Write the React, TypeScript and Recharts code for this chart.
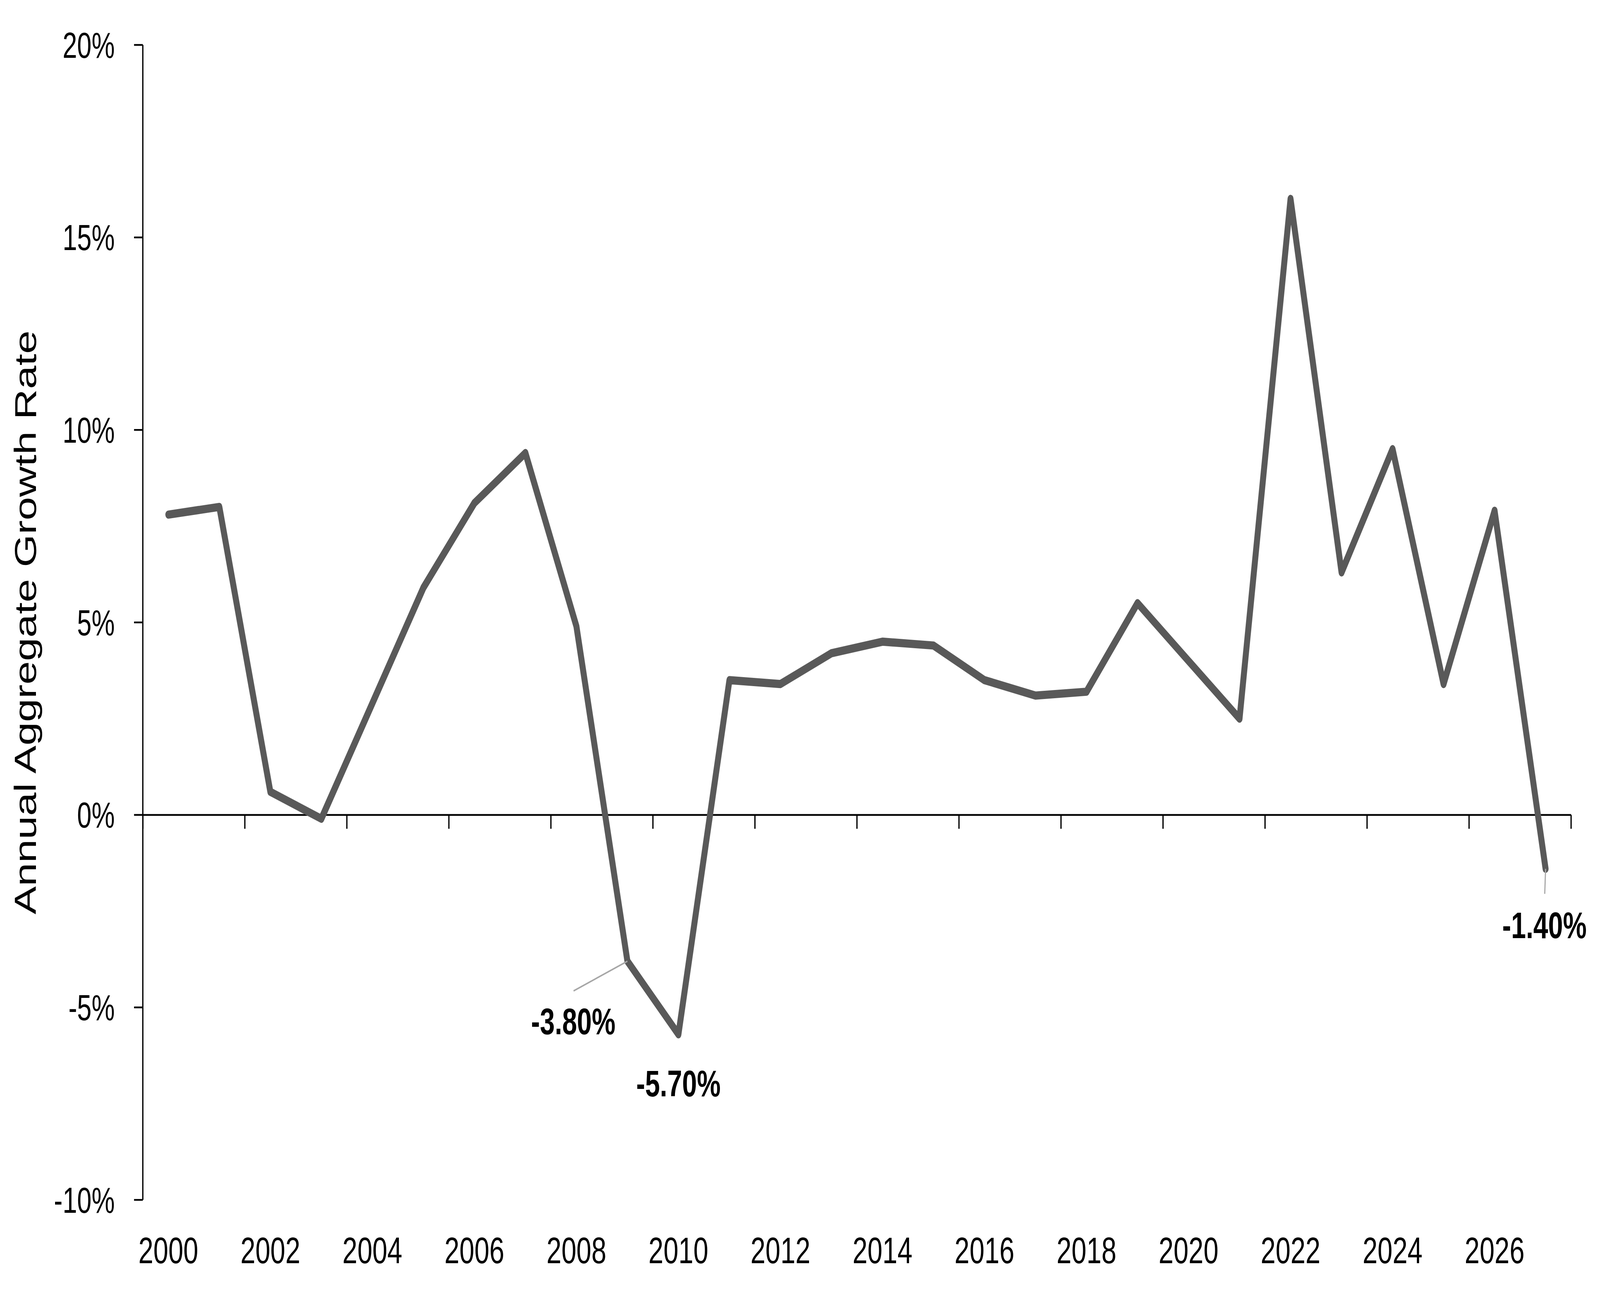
import { LineChart, Line, XAxis, YAxis, ReferenceLine } from 'recharts';

const years = [
  2000, 2001, 2002, 2003, 2004, 2005, 2006, 2007, 2008, 2009, 2010, 2011, 2012, 2013,
  2014, 2015, 2016, 2017, 2018, 2019, 2020, 2021, 2022, 2023, 2024, 2025, 2026, 2027,
];

const growth = [
  7.8, 8.0, 0.6, -0.1, 2.9, 5.9, 8.1, 9.4, 4.9, -3.8, -5.7, 3.5, 3.4, 4.2,
  4.5, 4.4, 3.5, 3.1, 3.2, 5.5, 4.0, 2.5, 16.0, 6.3, 9.5, 3.4, 7.9, -1.4,
];

const yearLabels = [2000, 2002, 2004, 2006, 2008, 2010, 2012, 2014, 2016, 2018, 2020, 2022, 2024, 2026];
const yearBoundaries = [
  1999.5, 2001.5, 2003.5, 2005.5, 2007.5, 2009.5, 2011.5, 2013.5, 2015.5, 2017.5, 2019.5,
  2021.5, 2023.5, 2025.5, 2027.5,
];
const yTicks = [-10, -5, 0, 5, 10, 15, 20];

const annotatedYears = [2009, 2010, 2027];

const data = years.map((year, i) => ({ year, value: growth[i] }));

const W = 5646;
const H = 3340;
const FONT = '"Liberation Sans", Arial, sans-serif';
const LINE_COLOR = '#595959';

// label placement relative to the point: text centre dx, baseline dy, leader end
const labelPlacement: Record<number, { dx: number; dy: number; leader?: [number, number] }> = {
  2009: { dx: -191, dy: 187, leader: [-190, 76] },
  2010: { dx: 0, dy: 159 },
  2027: { dx: -4, dy: 177, leader: [-3, 64] },
};

function PointLabel(props: any) {
  const { x, y, index, value } = props;
  const year = years[index];
  if (!annotatedYears.includes(year)) return null;
  const p = labelPlacement[year];
  return (
    <g>
      {p.leader && (
        <line x1={x} y1={y} x2={x + p.leader[0]} y2={y + p.leader[1]} stroke="#a6a6a6" strokeWidth={4} />
      )}
      <text x={x + p.dx} y={y + p.dy} textAnchor="middle" fontFamily={FONT} fontWeight="bold" fontSize={94} fill="#000">
        {`${Number(value).toFixed(2)}%`}
      </text>
    </g>
  );
}

export default function App() {
  // the browser caps the window width, so stretch the drawing to fill the viewport
  const sx = window.innerWidth / W || 1;
  const sy = window.innerHeight / H || 1;

  return (
    <div style={{ position: 'fixed', inset: 0, overflow: 'hidden', background: '#fff' }}>
      <div style={{ width: W, height: H, transform: `scale(${sx}, ${sy})`, transformOrigin: '0 0' }}>
        <LineChart width={W} height={H} data={data} margin={{ top: 115, right: 102, bottom: 69, left: 0 }}>
          <XAxis
            dataKey="year"
            type="number"
            domain={[1999.5, 2027.5]}
            ticks={yearLabels}
            interval={0}
            height={200}
            axisLine={false}
            tickLine={false}
            tickSize={0}
            tickMargin={95}
            tick={{ fontFamily: FONT, fontSize: 95, fill: '#000' }}
          />
          <YAxis
            domain={[-10, 20]}
            ticks={yTicks}
            interval={0}
            width={504}
            axisLine={{ stroke: '#000', strokeWidth: 4.5 }}
            tickLine={{ stroke: '#000', strokeWidth: 4.5 }}
            tickSize={31}
            tickMargin={68}
            tickFormatter={(v: number) => `${v}%`}
            tick={{ fontFamily: FONT, fontSize: 92, fill: '#000' }}
            label={{
              value: 'Annual Aggregate Growth Rate',
              angle: -90,
              position: 'insideLeft',
              offset: 89,
              style: { textAnchor: 'middle', fontFamily: FONT, fontSize: 108, fill: '#000' },
            }}
          />
          <ReferenceLine y={0} stroke="#000" strokeWidth={4.5} />
          {yearBoundaries.map((b) => (
            <ReferenceLine key={b} segment={[{ x: b, y: 0 }, { x: b, y: -0.36 }]} stroke="#000" strokeWidth={4.5} />
          ))}
          <Line
            type="linear"
            dataKey="value"
            stroke={LINE_COLOR}
            strokeWidth={21}
            strokeLinecap="round"
            strokeLinejoin="round"
            dot={false}
            activeDot={false}
            isAnimationActive={false}
            label={<PointLabel />}
          />
        </LineChart>
      </div>
    </div>
  );
}
